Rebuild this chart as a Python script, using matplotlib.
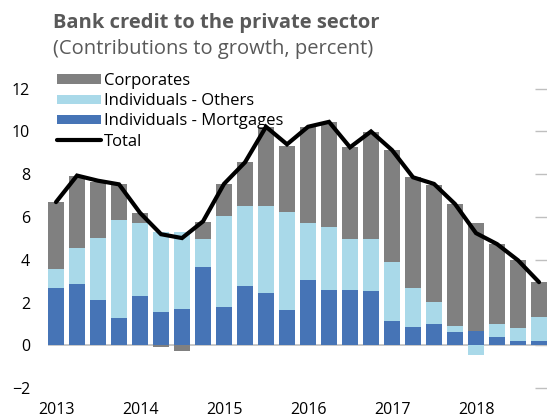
import numpy as np
import matplotlib.pyplot as plt

plt.rcParams['font.family'] = ['Open Sans', 'DejaVu Sans']

# quarterly data, 2013Q1 - 2018Q4
years = ['2013', '2014', '2015', '2016', '2017', '2018']
mortgages = [2.68, 2.88, 2.13, 1.29, 2.33, 1.56, 1.71, 3.66, 1.82, 2.80, 2.46, 1.67,
             3.08, 2.60, 2.60, 2.54, 1.14, 0.86, 1.01, 0.65, 0.67, 0.39, 0.23, 0.19]
others = [0.90, 1.66, 2.91, 4.58, 3.40, 3.72, 3.61, 1.30, 4.25, 3.70, 4.04, 4.55,
          2.65, 2.92, 2.36, 2.42, 2.78, 1.82, 1.04, 0.28, -0.44, 0.62, 0.60, 1.16]
corporates = [3.11, 3.40, 2.62, 1.66, 0.48, -0.05, -0.28, 0.83, 1.46, 2.06, 3.72, 3.12,
              4.49, 4.94, 4.30, 5.00, 5.21, 5.21, 5.47, 5.68, 5.06, 3.75, 3.17, 1.61]
total = [6.70, 7.94, 7.70, 7.53, 6.20, 5.20, 5.02, 5.80, 7.55, 8.56, 10.22, 9.40,
         10.22, 10.45, 9.26, 10.00, 9.13, 7.86, 7.55, 6.61, 5.25, 4.74, 3.98, 2.96]

c_mort = '#4674b6'
c_oth = '#a9d9e9'
c_corp = '#808080'

x = np.arange(len(total))
mortgages = np.array(mortgages)
others = np.array(others)
corporates = np.array(corporates)

# stacking: positives go up, negatives go down
pos_base = np.zeros(len(x))
neg_base = np.zeros(len(x))

def stack(vals, color, label):
    bottoms = np.where(vals >= 0, pos_base, neg_base)
    plt.bar(x, vals, bottom=bottoms, width=0.77, color=color, label=label, zorder=2)
    pos_base[:] = pos_base + np.where(vals >= 0, vals, 0)
    neg_base[:] = neg_base + np.where(vals < 0, vals, 0)

fig = plt.figure(figsize=(5.47, 4.2), dpi=100)
ax = fig.add_axes([0.0878, 0.05, 0.9122, 0.80])

stack(mortgages, c_mort, 'Individuals - Mortgages')
stack(others, c_oth, 'Individuals - Others')
stack(corporates, c_corp, 'Corporates')
ax.plot(x, total, color='black', linewidth=3, solid_capstyle='round',
        solid_joinstyle='miter', label='Total', zorder=4)

ax.axhline(0, color='#bfbfbf', linewidth=1.2, zorder=1)

ax.set_xlim(-0.38, 23.38)
ax.set_ylim(-2.5, 13.2)
ax.set_yticks(np.arange(-2, 13, 2))
ax.set_xticks(np.arange(0, 24, 4))
ax.set_xticklabels(years)

for s in ax.spines.values():
    s.set_visible(False)
ax.tick_params(axis='x', length=0, labelsize=11.5, pad=2)
ax.tick_params(axis='y', left=False, right=True, labelleft=True, direction='in',
               length=9, width=1, color='#bfbfbf', labelsize=11.5, pad=-0)
for lab in ax.get_yticklabels():
    lab.set_x(-0.036)
    lab.set_horizontalalignment('right')

# legend in Corporates / Others / Mortgages / Total order
h, l = ax.get_legend_handles_labels()
order = ['Corporates', 'Individuals - Others', 'Individuals - Mortgages', 'Total']
hh = [h[l.index(o)] for o in order]
ax.legend(hh, order, loc='upper left', bbox_to_anchor=(0.004, 0.99), frameon=False,
          fontsize=12, handlelength=2.65, handleheight=0.5, handletextpad=0.2,
          labelspacing=0.25, borderaxespad=0)

fig.text(0.097, 0.945, 'Bank credit to the private sector', fontsize=14.5,
         fontweight='bold', color='#595959', va='center')
fig.text(0.097, 0.884, '(Contributions to growth, percent)', fontsize=14.5,
         color='#595959', va='center')

plt.savefig('out.png', dpi=100)
